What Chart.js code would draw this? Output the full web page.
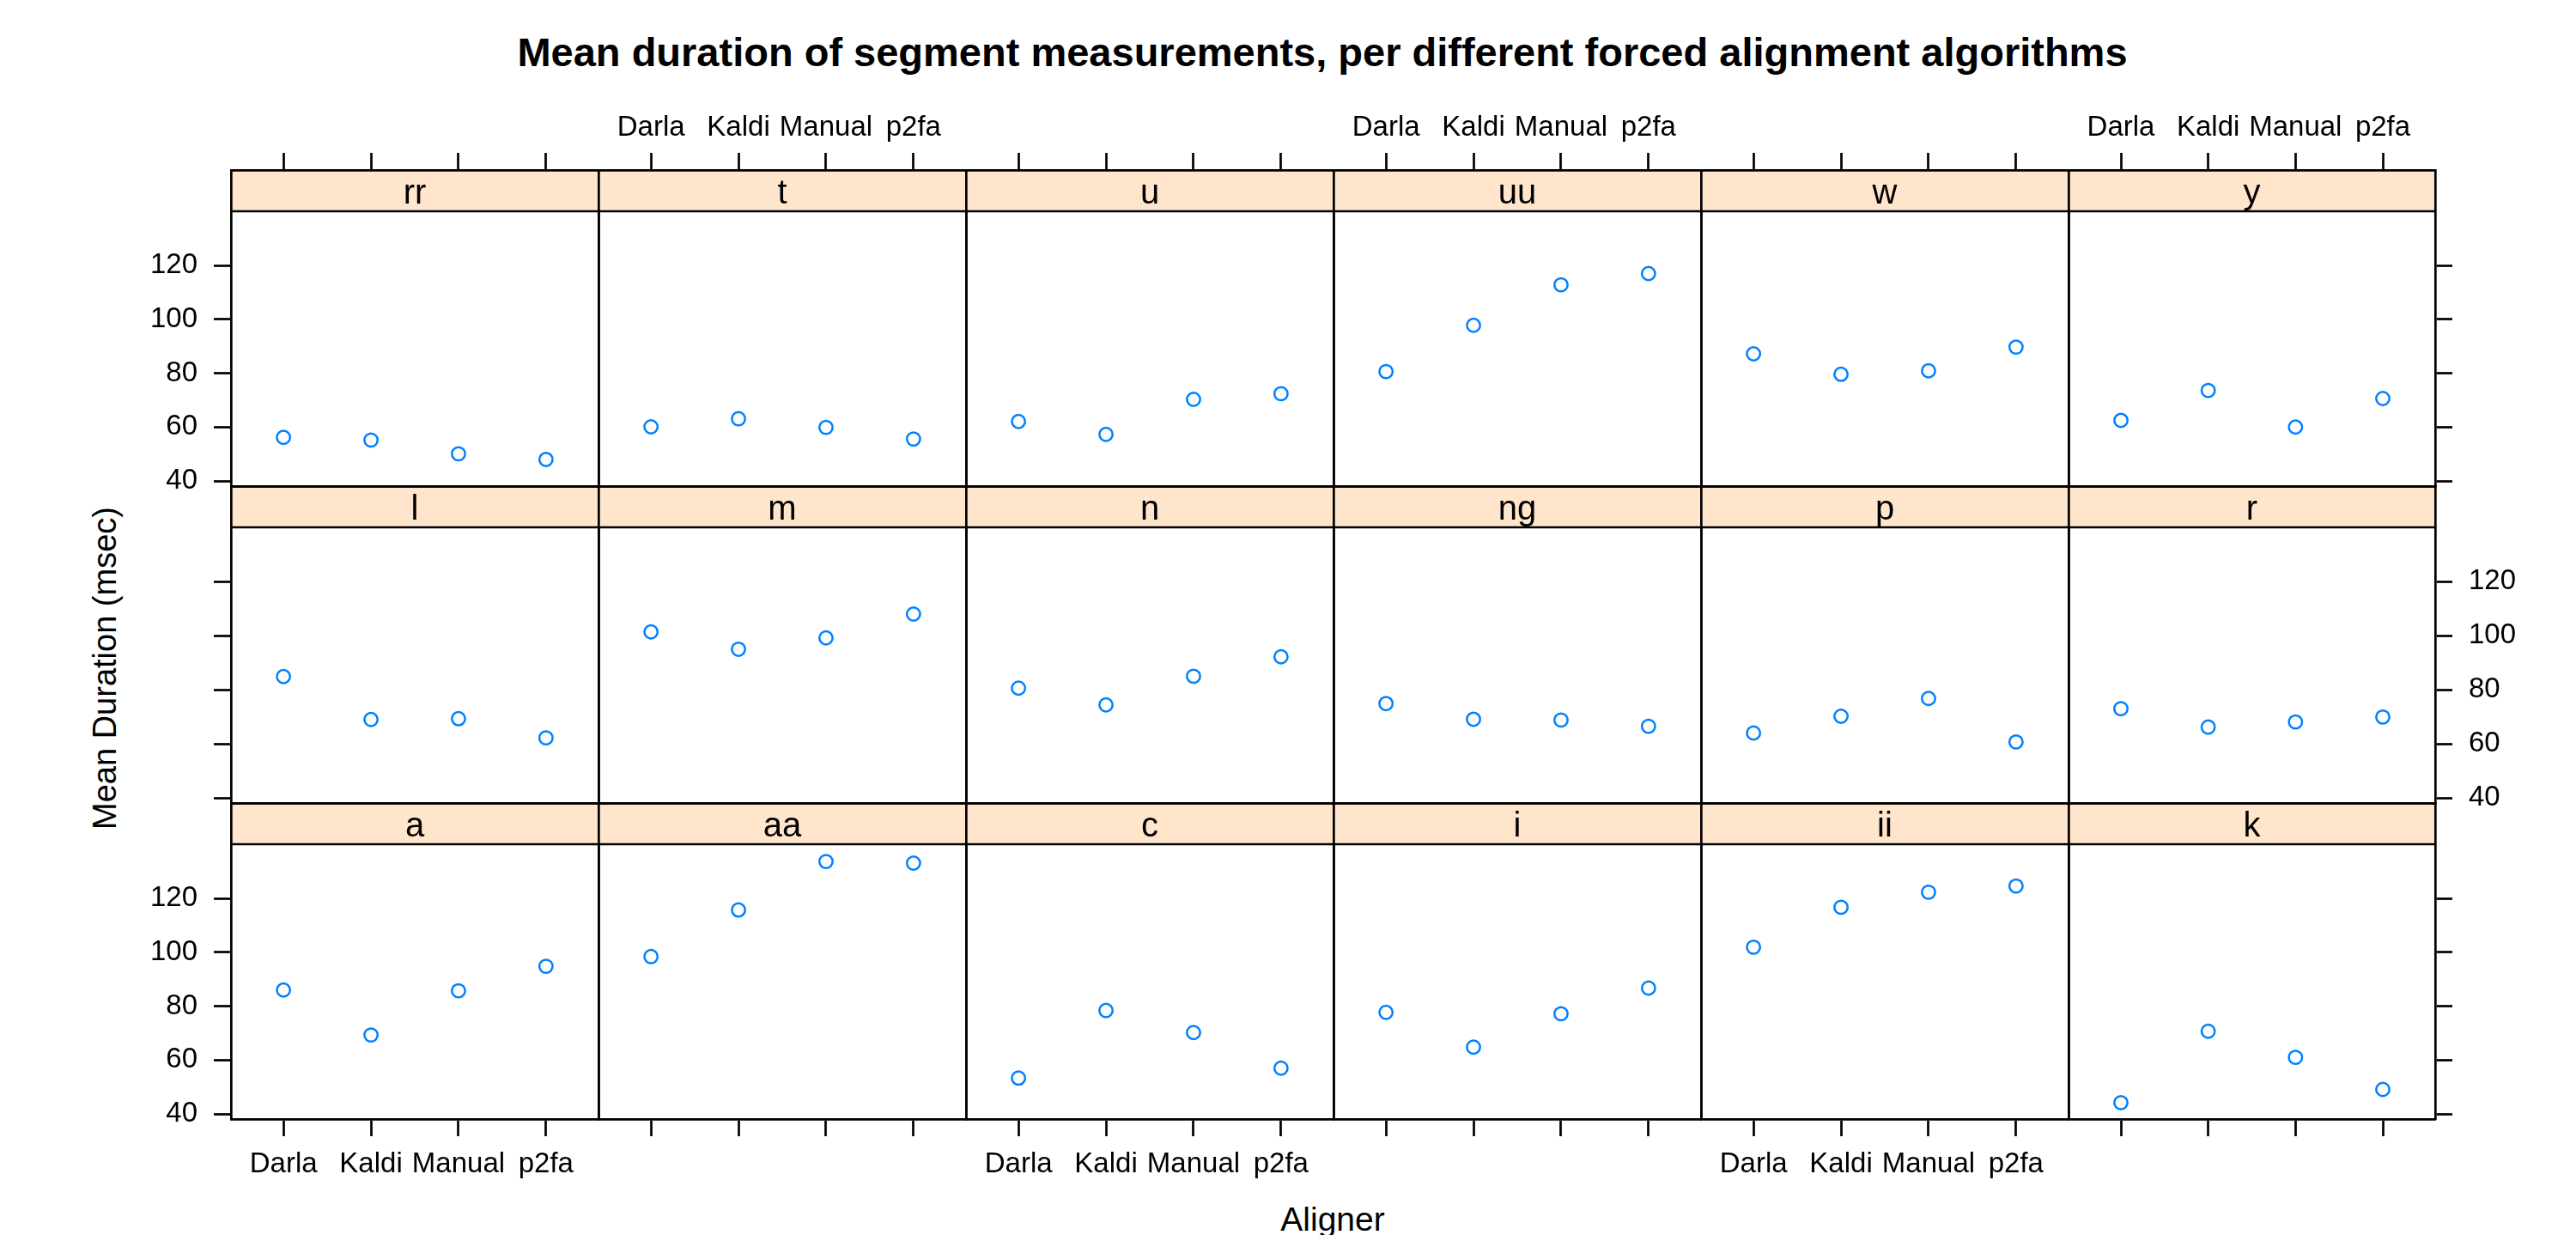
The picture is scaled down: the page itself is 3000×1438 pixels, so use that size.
<!DOCTYPE html>
<html>
<head>
<meta charset="utf-8">
<script src="https://cdn.jsdelivr.net/npm/chart.js@4.4.1/dist/chart.umd.min.js"></script>
<style>
  html, body { margin: 0; padding: 0; background: #fff; }
  #page { position: relative; width: 3000px; height: 1438px; overflow: hidden;
          font-family: "Liberation Sans", Arial, sans-serif; color: #000; }
  #page canvas { position: absolute; }
  .lbl { position: absolute; white-space: nowrap; }
  #title { font-weight: bold; font-size: 47px; line-height: 47px; left: 1540px; top: 37px; transform: translateX(-50%); }
  #xlab { font-size: 39px; line-height: 39px; left: 1552px; top: 1400px; transform: translateX(-50%); }
  #ylab { font-size: 38px; line-height: 38px; left: 122px; top: 778px; transform: translate(-50%, -50%) rotate(-90deg); }
</style>
</head>
<body>
<div id="page">
  <div class="lbl" id="title">Mean duration of segment measurements, per different forced alignment algorithms</div>
  <div class="lbl" id="xlab">Aligner</div>
  <div class="lbl" id="ylab">Mean Duration (msec)</div>
</div>
<script>
// Lattice-style panels: mean segment duration per aligner
(function(){
  'use strict';

  const aligners = ['Darla', 'Kaldi', 'Manual', 'p2fa'];
  const segments = ['a','aa','c','i','ii','k','l','m','n','ng','p','r','rr','t','u','uu','w','y'];

  // one value per segment, same order as segments
  const darla  = [86.0,  98.4, 53.3, 77.7, 101.9, 44.2, 84.9, 101.4, 80.6, 74.9, 64.0, 73.0, 56.2, 60.1, 62.1,  80.6, 87.2, 62.5];
  const kaldi  = [69.3, 115.7, 78.4, 64.8, 116.7, 70.7, 69.0,  95.0, 74.4, 69.1, 70.2, 66.2, 55.2, 63.1, 57.3,  97.8, 79.6, 73.6];
  const manual = [85.7, 133.7, 70.2, 77.2, 122.3, 61.0, 69.3,  99.2, 85.0, 68.8, 76.8, 68.1, 50.1, 59.9, 70.3, 112.8, 80.9, 60.0];
  const p2fa   = [94.8, 133.1, 57.0, 86.7, 124.6, 49.1, 62.2, 108.0, 92.2, 66.5, 60.7, 69.9, 48.0, 55.6, 72.4, 117.0, 89.7, 70.6];

  const yTicks = [40, 60, 80, 100, 120];
  const yRange = [38.1, 140.1];
  const xRange = [0.4, 4.6];

  // layout in px
  const colX = [269, 697, 1125, 1553, 1981, 2409, 2836];
  const rowY = [198, 566, 935, 1303];
  const STRIP = 48;
  const SIDE = 140, TB = 100;
  const LW = 2.7;
  const FONT = '"Liberation Sans", Arial, sans-serif';
  const FSIZE = 33;

  const series = [darla, kaldi, manual, p2fa];
  const page = document.getElementById('page');

  const stripPlugin = {
    id: 'strip',
    beforeDraw: function(chart, args, opts){
      const a = chart.chartArea, ctx = chart.ctx;
      const yb = chart.scales.y.getPixelForValue(yRange[1]);
      ctx.save();
      ctx.fillStyle = '#ffe5cc';
      ctx.fillRect(a.left, a.top, a.right - a.left, yb - a.top);
      ctx.strokeStyle = '#000'; ctx.lineWidth = LW;
      ctx.beginPath(); ctx.moveTo(a.left, yb); ctx.lineTo(a.right, yb); ctx.stroke();
      ctx.fillStyle = '#000';
      ctx.font = '40px ' + FONT;
      ctx.textAlign = 'center'; ctx.textBaseline = 'alphabetic';
      ctx.fillText(opts.label, (a.left + a.right) / 2, yb - 9);
      ctx.restore();
    }
  };

  function axis(pos, showTicks, showLabels, pad, extra){
    const horiz = (pos === 'top' || pos === 'bottom');
    return Object.assign({
      type: 'linear', position: pos, display: true,
      grid: { display: true, drawOnChartArea: false, drawTicks: showTicks,
              tickLength: 20, tickWidth: LW, tickColor: '#000' },
      border: { display: true, color: '#000', width: LW },
      ticks: { display: showLabels, color: '#000', font: { family: FONT, size: FSIZE },
               padding: pad, autoSkip: false, maxRotation: 0, minRotation: 0 },
      afterFit: function(s){ if(horiz) s.height = TB; else s.width = SIDE; }
    }, extra);
  }

  segments.forEach(function(seg, i){
    const row = 2 - Math.floor(i / 6);   // 0 = top row
    const col = i % 6;
    const w = colX[col + 1] - colX[col];
    const h = rowY[row + 1] - rowY[row];

    const cv = document.createElement('canvas');
    cv.width = w + 2 * SIDE;
    cv.height = h + 2 * TB;
    cv.style.left = (colX[col] - SIDE) + 'px';
    cv.style.top = (rowY[row] - TB) + 'px';
    page.appendChild(cv);

    // y max stretched so the strip sits above the data range
    const pxPerUnit = (h - STRIP) / (yRange[1] - yRange[0]);
    const yMax = yRange[1] + STRIP / pxPerUnit;

    const xOpts = {
      min: xRange[0], max: xRange[1],
      afterBuildTicks: function(s){ s.ticks = aligners.map(function(a, k){ return { value: k + 1 }; }); }
    };
    const yOpts = {
      min: yRange[0], max: yMax,
      afterBuildTicks: function(s){ s.ticks = yTicks.map(function(v){ return { value: v }; }); }
    };

    const xb = axis('bottom', row === 2, row === 2 && col % 2 === 0, 13, xOpts);
    const xt = axis('top', row === 0, row === 0 && col % 2 === 1, 9, xOpts);
    xb.ticks.callback = xt.ticks.callback = function(v){ return aligners[v - 1]; };
    const yl = axis('left', col === 0, col === 0 && row !== 1, 19, yOpts);
    const yr = axis('right', col === 5, col === 5 && row === 1, 19, yOpts);
    yl.ticks.callback = yr.ticks.callback = function(v){ return String(v); };

    new Chart(cv.getContext('2d'), {
      type: 'scatter',
      data: {
        datasets: [{
          data: aligners.map(function(a, k){ return { x: k + 1, y: series[k][i] }; }),
          pointStyle: 'circle',
          pointRadius: 7.7,
          pointBorderWidth: 2.5,
          pointBorderColor: '#0080ff',
          pointBackgroundColor: 'rgba(0,0,0,0)',
          showLine: false
        }]
      },
      options: {
        responsive: false, animation: false, devicePixelRatio: 1, events: [],
        layout: { padding: 0 },
        plugins: { legend: { display: false }, tooltip: { enabled: false }, strip: { label: seg } },
        scales: { x: xb, xTop: xt, y: yl, yRight: yr }
      },
      plugins: [stripPlugin]
    });
  });
})();
</script>
</body>
</html>
